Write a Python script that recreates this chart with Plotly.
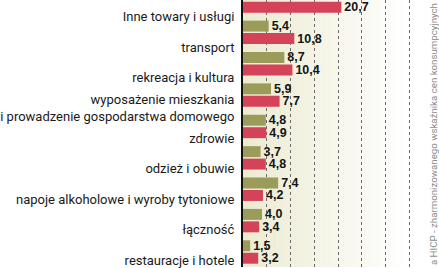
import plotly.graph_objects as go

# ---- data ----
categories = [
    "Inne towary i usługi",
    "transport",
    "rekreacja i kultura",
    "wyposażenie mieszkania<br>i prowadzenie gospodarstwa domowego",
    "zdrowie",
    "odzież i obuwie",
    "napoje alkoholowe i wyroby tytoniowe",
    "łączność",
    "restauracje i hotele",
]
red_values = [20.7, 10.8, 10.4, 7.7, 4.9, 4.8, 4.2, 3.4, 3.2]
olive_values = [5.4, 8.7, 5.9, 4.8, 3.7, 7.4, 4.0, 1.5, None]
source_note = "a HICP - zharmonizowanego wskaźnika cen konsumpcyjnych"
grid_values = [5, 10, 15, 20, 25, 30, 35]

positions = list(range(len(categories)))

W, H = 439, 268
L = 241
BAR_W = 0.349
RED_OFF = -0.476
OLIVE_OFF = 0.127

value_font = dict(family="Liberation Sans, Arial, sans-serif",
                  size=12.5, color="#141414", weight="bold")

fig = go.Figure()
fig.add_trace(go.Bar(
    name="seria czerwona", orientation="h",
    y=positions, x=red_values,
    width=BAR_W, offset=RED_OFF,
    marker=dict(color="#d4435a", line=dict(width=0)),
    texttemplate="%{x:.1f}", textposition="outside", constraintext="none",
    textfont=value_font, cliponaxis=False,
))
fig.add_trace(go.Bar(
    name="seria oliwkowa", orientation="h",
    y=positions, x=olive_values,
    width=BAR_W, offset=OLIVE_OFF,
    marker=dict(color="#9c9c5a", line=dict(width=0)),
    texttemplate="%{x:.1f}", textposition="outside", constraintext="none",
    textfont=value_font, cliponaxis=False,
))

# cream-to-white background gradient behind the plot area
shapes = []
N = 40
c0 = (236, 235, 209)
c1 = (255, 255, 255)
for k in range(N):
    t = k / (N - 1)
    f = min(1.0, t / 0.85)
    col = tuple(round(c0[j] + (c1[j] - c0[j]) * f) for j in range(3))
    shapes.append(dict(type="rect", xref="paper", yref="paper",
                       x0=k / N, x1=(k + 1) / N + 0.002, y0=0, y1=1,
                       fillcolor="rgb(%d,%d,%d)" % col, line=dict(width=0),
                       layer="below"))

top = -0.53
bottom = top + H / 31.5
# label placement: slight upward drift toward the bottom, as in the reference
label_pos = [p + 0.0 - 0.03 * p for p in positions]

fig.update_layout(
    width=W, height=H,
    margin=dict(l=L, r=0, t=0, b=0),
    paper_bgcolor="white", plot_bgcolor="white",
    showlegend=False,
    separators=",.",
    shapes=shapes,
    xaxis=dict(range=[0, (W - L) / 4.8], tickmode="array", tickvals=grid_values,
               showticklabels=False, showgrid=True, gridcolor="#6a6a6a",
               griddash="dot", gridwidth=1, zeroline=False, ticks=""),
    yaxis=dict(range=[bottom, top], tickmode="array",
               tickvals=label_pos, ticktext=categories,
               showgrid=False, zeroline=False, showline=True,
               linecolor="#111111", linewidth=2, ticks="",
               ticklabelstandoff=4, ticklabeloverflow="allow",
               tickfont=dict(family="Roboto, Liberation Sans, sans-serif",
                             size=13, color="#1a1a1a")),
    annotations=[dict(text=source_note, xref="paper", yref="paper",
                      x=(433 - L) / (W - L), y=0.0,
                      xanchor="center", yanchor="bottom", textangle=-90,
                      showarrow=False,
                      font=dict(family="Roboto, Liberation Sans, sans-serif",
                                size=9.7, color="#8c8c8c"))],
)

fig.write_html("out.html")
